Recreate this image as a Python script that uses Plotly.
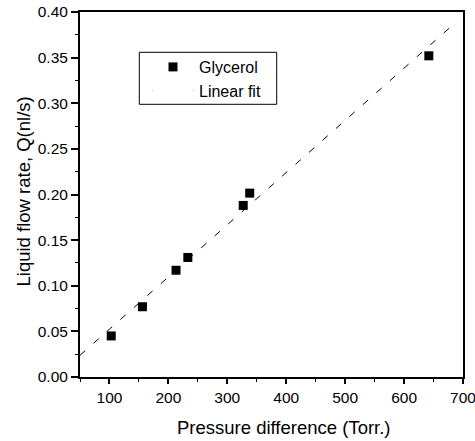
import plotly.graph_objects as go

# Data
pressure = [103, 156, 213, 233, 327, 338, 642]
flow_rate = [0.045, 0.077, 0.117, 0.131, 0.188, 0.2015, 0.352]
fit_x = [50, 690]
fit_y = [0.0238, 0.390]

FONT = "Liberation Sans, Arial, Helvetica, sans-serif"

fig = go.Figure()
fig.add_trace(go.Scatter(
    x=pressure, y=flow_rate, mode="markers", name="Glycerol",
    marker=dict(symbol="square", size=9, color="black", line=dict(width=0)),
))
fig.add_trace(go.Scatter(
    x=fit_x, y=fit_y, mode="lines", name="Linear fit", showlegend=False,
    line=dict(color="black", width=1, dash="7px,11px"),
))
# legend entry for the fit (the sample is nearly invisible in the reference)
fig.add_trace(go.Scatter(
    x=[None], y=[None], mode="lines", name="Linear fit",
    line=dict(color="rgba(0,0,0,0.25)", width=1, dash="1px,40px"),
))

W, H = 475, 441
L, R, T, B = 80, 12, 12, 64
pw, ph = W - L - R, H - T - B


def px(xp):
    return (xp - L) / pw


def py(yp):
    return (H - B - yp) / ph


fig.update_layout(
    width=W, height=H,
    margin=dict(l=L, r=R, t=T, b=B, autoexpand=False),
    paper_bgcolor="white", plot_bgcolor="white",
    font=dict(family=FONT, color="black", size=15.5),
    showlegend=True,
    legend=dict(
        x=px(147), y=py(50), xanchor="left", yanchor="top",
        bgcolor="rgba(0,0,0,0)", borderwidth=0, tracegroupgap=0,
        font=dict(size=16, family=FONT, color="black"),
        itemwidth=42,
    ),
    xaxis=dict(
        range=[50, 700], tick0=0, dtick=100, automargin=False,
        ticklabeloverflow="allow",
        showgrid=False, zeroline=False,
        showline=True, linecolor="black", linewidth=2, mirror=True,
        ticks="outside", ticklen=5, tickwidth=1.5, tickcolor="black",
        minor=dict(dtick=50, ticks="outside", ticklen=3, tickwidth=1, tickcolor="black"),
        tickfont=dict(size=15.5),
    ),
    yaxis=dict(
        range=[0, 0.40], tick0=0, dtick=0.05, tickformat=".2f", automargin=False,
        ticklabeloverflow="allow",
        showgrid=False, zeroline=False,
        showline=True, linecolor="black", linewidth=2, mirror=True,
        ticks="outside", ticklen=7, tickwidth=1.5, tickcolor="black",
        minor=dict(dtick=0.025, ticks="outside", ticklen=3, tickwidth=1, tickcolor="black"),
        tickfont=dict(size=15.5),
    ),
    shapes=[dict(
        type="rect", xref="paper", yref="paper",
        x0=px(139.3), x1=px(276.7), y0=py(104.3), y1=py(52.3),
        line=dict(color="black", width=1), fillcolor="rgba(0,0,0,0)",
    )],
    annotations=[
        dict(text="Pressure difference (Torr.)", xref="paper", yref="paper",
             x=px(284), y=py(427), xanchor="center", yanchor="middle",
             showarrow=False, font=dict(size=18.5)),
        dict(text="Liquid flow rate, Q(nl/s)", xref="paper", yref="paper",
             x=px(23), y=py(191.5), xanchor="center", yanchor="middle",
             textangle=-90, showarrow=False, font=dict(size=18.5)),
    ],
)

fig.write_html("out.html")
